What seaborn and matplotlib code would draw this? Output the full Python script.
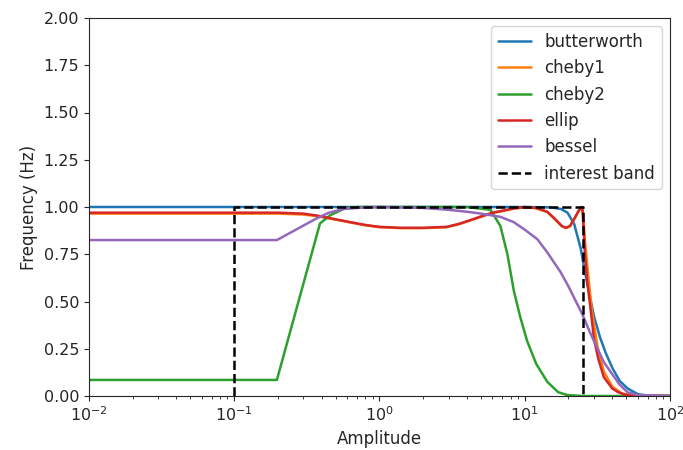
import matplotlib
matplotlib.use("Agg")
import matplotlib.pyplot as plt
import seaborn as sns
import numpy as np

# === Data ===
butter_x = [0.01, 10, 15, 17.7, 19.7, 21.9, 24.3, 25.5, 27, 30, 33, 36, 40, 45, 51, 60, 70, 100]
butter_y = [1.0, 1.0, 0.998, 0.99, 0.97, 0.91, 0.78, 0.69, 0.59, 0.42, 0.31, 0.23, 0.15, 0.08, 0.04, 0.01, 0.002, 0.0]

ellip_x = [0.01, 0.2, 0.3, 0.37, 0.5, 0.63, 0.8, 1.0, 1.4, 2.0, 2.9, 3.5, 4.2, 5.0, 6.0, 7.0,
           8.4, 10, 12, 14.3, 16, 18, 19.2, 20.5, 22, 23.5, 24.5, 25, 26, 27, 28.5, 30, 32, 35,
           40, 44, 50, 60, 100]
ellip_y = [0.97, 0.97, 0.965, 0.955, 0.935, 0.92, 0.905, 0.895, 0.89, 0.89, 0.895, 0.91, 0.93, 0.95,
           0.97, 0.98, 0.993, 1.0, 0.995, 0.975, 0.94, 0.90, 0.89, 0.90, 0.94, 0.98, 1.0, 0.98,
           0.75, 0.60, 0.45, 0.30, 0.20, 0.10, 0.04, 0.02, 0.005, 0.001, 0.0]

cheby1_x = [0.01, 0.2, 0.3, 0.37, 0.5, 0.63, 0.8, 1.0, 1.4, 2.0, 2.9, 3.5, 4.2, 5.0, 6.0, 7.0,
            8.4, 10, 12, 14.3, 16, 18, 19.2, 20.5, 22, 23.5, 24.5, 25, 26, 27.5, 29, 31.7, 35,
            40, 47, 60, 100]
cheby1_y = [0.965, 0.965, 0.96, 0.952, 0.933, 0.918, 0.903, 0.893, 0.888, 0.888, 0.893, 0.908, 0.928,
            0.948, 0.968, 0.978, 0.991, 0.998, 0.993, 0.973, 0.938, 0.898, 0.888, 0.898, 0.938,
            0.978, 0.998, 1.0, 0.82, 0.62, 0.45, 0.26, 0.13, 0.05, 0.012, 0.002, 0.0]

cheby2_x = [0.01, 0.197, 0.39, 0.46, 0.57, 0.7, 1.0, 4.0, 5.8, 6.8, 7.6, 8.4, 9.3, 10.4, 12,
            14.3, 17, 19.7, 25, 100]
cheby2_y = [0.085, 0.085, 0.913, 0.957, 0.99, 1.0, 1.0, 1.0, 0.985, 0.90, 0.75, 0.56, 0.42, 0.29,
            0.17, 0.075, 0.02, 0.005, 0.0, 0.0]

bessel_x = [0.01, 0.197, 0.37, 0.45, 0.57, 0.8, 1.0, 2, 3, 4, 5, 6.8, 8.4, 10, 12.2, 14.3,
            17.7, 20, 25, 28, 31.7, 35, 39, 45, 51, 60, 100]
bessel_y = [0.825, 0.825, 0.94, 0.97, 0.99, 0.998, 1.0, 0.995, 0.985, 0.975, 0.965, 0.948, 0.92,
            0.88, 0.83, 0.76, 0.654, 0.58, 0.43, 0.34, 0.25, 0.18, 0.128, 0.06, 0.02, 0.005, 0.0]

band_x = [0.1, 0.1, 25, 25]
band_y = [0.0, 1.0, 1.0, 0.0]

series = [
    ("butterworth", butter_x, butter_y),
    ("cheby1", cheby1_x, cheby1_y),
    ("cheby2", cheby2_x, cheby2_y),
    ("ellip", ellip_x, ellip_y),
    ("bessel", bessel_x, bessel_y),
]

# === Plot ===
sns.set_style("ticks")
plt.rcParams["font.family"] = ["DejaVu Sans"]
colors = sns.color_palette("tab10")

fig = plt.figure(figsize=(6.83, 4.5), dpi=100)
ax = fig.add_axes([0.13, 0.12, 0.851, 0.84])

for i, (name, xs, ys) in enumerate(series):
    sns.lineplot(x=xs, y=ys, ax=ax, color=colors[i], linewidth=1.8, label=name,
                 sort=False, estimator=None)

sns.lineplot(x=band_x, y=band_y, ax=ax, color="black", linestyle="--", linewidth=1.8,
             label="interest band", sort=False, estimator=None)

ax.set_xscale("log")
ax.set_xlim(1e-2, 1e2)
ax.set_ylim(0, 2)
ax.set_yticks(np.arange(0, 2.01, 0.25))
ax.set_yticklabels([f"{v:.2f}" for v in np.arange(0, 2.01, 0.25)])
ax.set_xlabel("Amplitude", fontsize=12)
ax.set_ylabel("Frequency (Hz)", fontsize=12)
ax.tick_params(labelsize=11.5, direction="out")
ax.legend(loc="upper right", fontsize=12, frameon=True)

plt.savefig("out.png", dpi=100)
plt.close()
